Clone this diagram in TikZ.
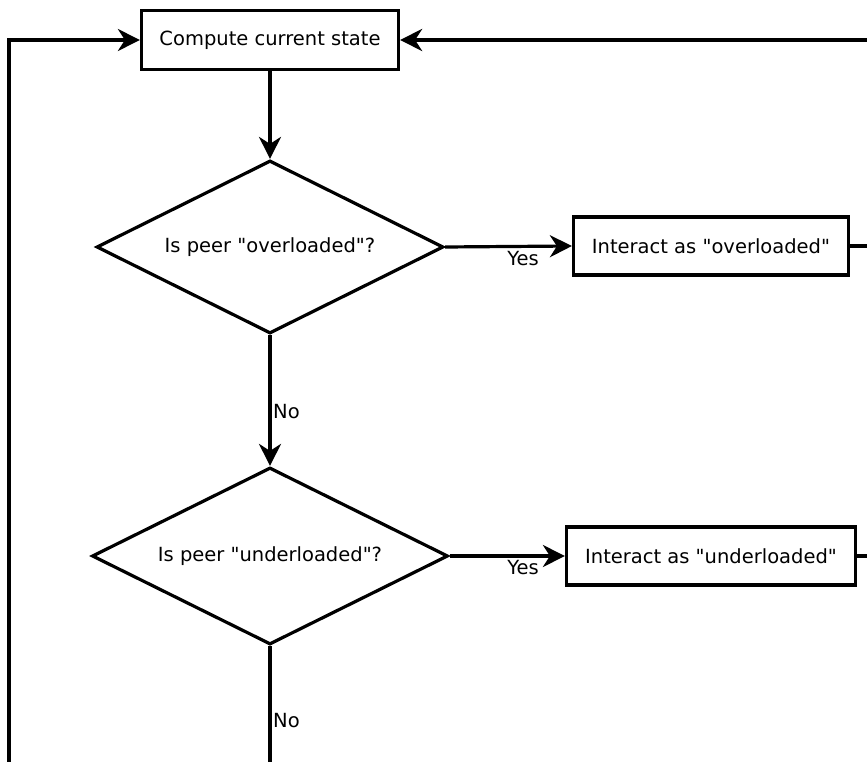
\documentclass[tikz,border=0pt]{standalone}
\usepackage{fontspec}
\setmainfont{DejaVu Sans}[Ligatures=TeXOff]
\usetikzlibrary{shapes.geometric,arrows.meta}
\begin{document}
\begin{tikzpicture}[x=1pt,y=-1pt,
  every node/.style={font=\fontsize{19.5}{23}\selectfont},
  procbox/.style={draw,line width=3.2pt,rectangle,inner sep=0pt},
  decision/.style={draw,line width=3.2pt,diamond,shape aspect=2,inner sep=0pt},
  conn/.style={line width=3.2pt},
  arr/.style={conn,-{Stealth[length=22pt,width=22pt,inset=7pt]}},
  lbl/.style={inner sep=0pt}]
\clip (0,0) rectangle (867,762);
\fill[white] (0,0) rectangle (867,762);

\node[procbox,minimum width=257pt,minimum height=59pt] (box1) at (270,40) {Compute current state};
\node[decision,minimum width=347pt,minimum height=173pt] (d1) at (270,247) {Is peer "overloaded"?};
\node[procbox,minimum width=275pt,minimum height=58pt] (box2) at (711,246) {Interact as "overloaded"};
\node[decision,minimum width=356pt,minimum height=177pt] (d2) at (270,556) {Is peer "underloaded"?};
\node[procbox,minimum width=289pt,minimum height=58pt] (box3) at (711,556) {Interact as "underloaded"};

\coordinate (leftbot) at (9,780);
\coordinate (rightin) at (880,40);
\coordinate (out2) at (880,246);
\coordinate (out3) at (880,556);
\coordinate (d2bot) at (270,780);

\draw[arr] (leftbot) |- (box1.west);
\draw[arr,line width=4pt] (rightin) -- (box1.east);
\draw[arr] (box1.south) -- (d1.north);
\draw[arr] (d1.east) -- (box2.west);
\draw[arr] (d1.south) -- (d2.north);
\draw[arr] (d2.east) -- (box3.west);
\draw[conn] (box2.east) -- (out2);
\draw[conn] (box3.east) -- (out3);
\draw[conn] (d2.south) -- (d2bot);

\node[lbl] (yes1) at (523,259) {Yes};
\node[lbl] (yes2) at (523,568) {Yes};
\node[lbl,anchor=west] (no1) at (273,412) {No};
\node[lbl,anchor=west] (no2) at (273,721) {No};
\end{tikzpicture}
\end{document}
